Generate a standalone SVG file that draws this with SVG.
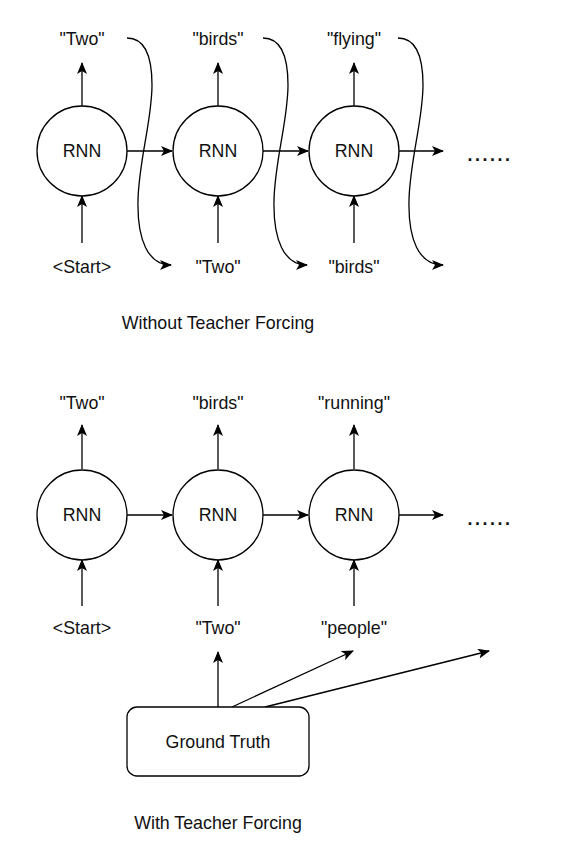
<svg xmlns="http://www.w3.org/2000/svg" width="566" height="846" viewBox="0 0 566 846">
<defs>
<marker id="ah" viewBox="0 0 12 10" refX="11" refY="5" markerWidth="12" markerHeight="10" markerUnits="userSpaceOnUse" orient="auto">
<path d="M0,0 L12,5 L0,10 L3,5 Z" fill="#000"/>
</marker>
</defs>
<style>
text{font-family:"Liberation Sans",Arial,sans-serif;font-size:17.8px;fill:#111;text-anchor:middle}
.n{fill:#fff;stroke:#000;stroke-width:1.3}
.c{fill:none;stroke:#000;stroke-width:1.3;marker-end:url(#ah)}
.d{font-weight:bold;letter-spacing:2.6px}
</style>
<rect width="566" height="846" fill="#fff"/>
<g id="connectors">
<path class="c" d="M82,106 V63"/>
<path class="c" d="M218,106 V63"/>
<path class="c" d="M354,106 V63"/>
<path class="c" d="M82,243 V196"/>
<path class="c" d="M218,243 V196"/>
<path class="c" d="M354,243 V196"/>
<path class="c" d="M127,151 H172"/>
<path class="c" d="M263,151 H308"/>
<path class="c" d="M399,151 H443"/>
<path class="c" d="M127,38 C145,38 152,55 152,85 C152,120 139,160 138,200 C137,240 148,265 171,265"/>
<path class="c" d="M263,38 C281,38 288,55 288,85 C288,120 275,160 274,200 C273,240 284,265 307,265"/>
<path class="c" d="M398,38 C416,38 423,55 423,85 C423,120 410,160 409,200 C408,240 419,265 443,265"/>
<path class="c" d="M82,469 V425"/>
<path class="c" d="M218,469 V425"/>
<path class="c" d="M354,469 V425"/>
<path class="c" d="M82,606 V560"/>
<path class="c" d="M218,606 V560"/>
<path class="c" d="M354,606 V560"/>
<path class="c" d="M127,515 H172"/>
<path class="c" d="M263,515 H308"/>
<path class="c" d="M399,515 H443"/>
<path class="c" d="M218,707 V652"/>
<path class="c" d="M232,707 L353,651"/>
<path class="c" d="M265,707 L489,651"/>
</g>
<g id="rnn1"><circle class="n" cx="82" cy="151" r="45"/><text x="82" y="157">RNN</text></g>
<g id="rnn2"><circle class="n" cx="218" cy="151" r="45"/><text x="218" y="157">RNN</text></g>
<g id="rnn3"><circle class="n" cx="354" cy="151" r="45"/><text x="354" y="157">RNN</text></g>
<g id="out1"><text x="82" y="45">"Two"</text></g>
<g id="out2"><text x="218" y="45">"birds"</text></g>
<g id="out3"><text x="354" y="45">"flying"</text></g>
<g id="in1"><text x="82" y="273">&lt;Start&gt;</text></g>
<g id="in2"><text x="218" y="273">"Two"</text></g>
<g id="in3"><text x="354" y="273">"birds"</text></g>
<g id="dots1"><text class="d" x="490" y="161">......</text></g>
<g id="title1"><text x="218" y="329">Without Teacher Forcing</text></g>
<g id="rnn4"><circle class="n" cx="82" cy="515" r="45"/><text x="82" y="521">RNN</text></g>
<g id="rnn5"><circle class="n" cx="218" cy="515" r="45"/><text x="218" y="521">RNN</text></g>
<g id="rnn6"><circle class="n" cx="354" cy="515" r="45"/><text x="354" y="521">RNN</text></g>
<g id="out4"><text x="82" y="409">"Two"</text></g>
<g id="out5"><text x="218" y="409">"birds"</text></g>
<g id="out6"><text x="354" y="409">"running"</text></g>
<g id="in4"><text x="82" y="634">&lt;Start&gt;</text></g>
<g id="in5"><text x="218" y="634">"Two"</text></g>
<g id="in6"><text x="354" y="634">"people"</text></g>
<g id="dots2"><text class="d" x="490" y="525">......</text></g>
<g id="gt"><rect class="n" x="127" y="707" width="182" height="69" rx="10"/><text x="218" y="748">Ground Truth</text></g>
<g id="title2"><text x="218" y="829">With Teacher Forcing</text></g>
</svg>
